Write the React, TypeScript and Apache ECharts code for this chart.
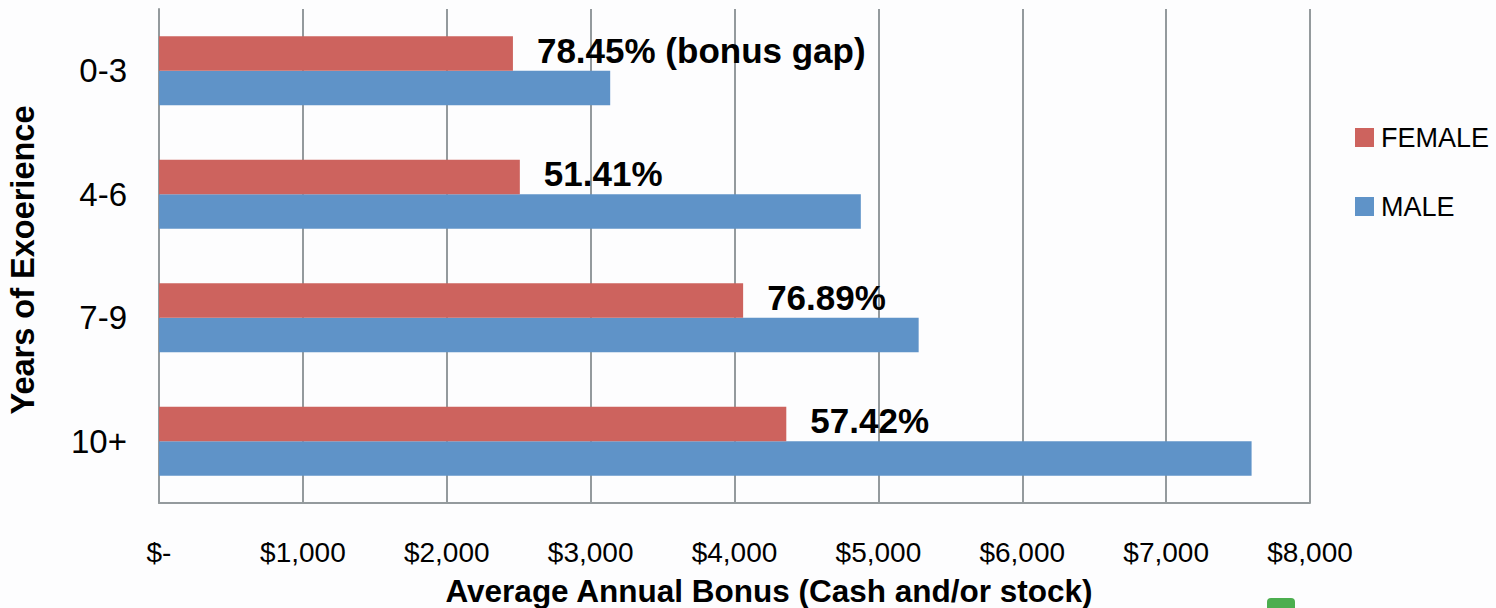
import React, { useEffect, useRef } from "react";
import * as echarts from "echarts";

const categories = ["0-3", "4-6", "7-9", "10+"];
const femaleValues = [2460, 2508, 4060, 4360];
const maleValues = [3136, 4878, 5280, 7594];
const gapLabels = ["78.45% (bonus gap)", "51.41%", "76.89%", "57.42%"];
const xTicks = [0, 1000, 2000, 3000, 4000, 5000, 6000, 7000, 8000];
const seriesNames = ["FEMALE", "MALE"];

const FONT = '"Liberation Sans", Arial, Helvetica, sans-serif';

function fmtMoney(v: number) {
  if (v === 0) return "$-";
  return "$" + v.toLocaleString("en-US");
}

export default function App() {
  const ref = useRef<HTMLDivElement>(null);
  useEffect(() => {
    document.body.style.margin = "0";
    if (!ref.current) return;
    const chart = echarts.init(ref.current, null, { renderer: "svg" });
    chart.setOption({
      animation: false,
      backgroundColor: "#fdfdfe",
      textStyle: { fontFamily: FONT },
      grid: { left: 159, right: 186, top: 9, bottom: 105, containLabel: false },
      legend: {
        orient: "vertical",
        left: 1350,
        top: 119,
        itemWidth: 19,
        itemHeight: 19,
        itemGap: 42,
        icon: "rect",
        data: seriesNames,
        textStyle: { fontSize: 27, color: "#000", fontFamily: FONT, padding: [0, 0, 0, 2] },
      },
      xAxis: {
        type: "value",
        min: xTicks[0],
        max: xTicks[xTicks.length - 1],
        interval: 1000,
        axisLine: { show: true, lineStyle: { color: "#949a9d", width: 2 } },
        axisTick: { show: false },
        splitLine: { show: true, lineStyle: { color: "#949a9d", width: 2 } },
        axisLabel: {
          formatter: (v: number) => fmtMoney(v),
          fontSize: 28,
          color: "#000",
          margin: 35,
          fontFamily: FONT,
        },
      },
      yAxis: {
        type: "category",
        data: categories,
        inverse: true,
        axisLine: { show: true, lineStyle: { color: "#949a9d", width: 2 } },
        axisTick: { show: false },
        axisLabel: { fontSize: 33, color: "#000", margin: 32, fontFamily: FONT },
      },
      series: [
        {
          name: seriesNames[0],
          type: "bar",
          data: femaleValues,
          barGap: "0%",
          barCategoryGap: "44%",
          itemStyle: { color: "#cd635e" },
          label: {
            show: true,
            position: "right",
            distance: 24,
            offset: [0, -3],
            formatter: (p: any) => gapLabels[p.dataIndex],
            fontSize: 35,
            fontWeight: "bold",
            color: "#000",
            fontFamily: FONT,
          },
          z: 3,
        },
        {
          name: seriesNames[1],
          type: "bar",
          data: maleValues,
          barGap: "0%",
          barCategoryGap: "44%",
          itemStyle: { color: "#5f93c8" },
          z: 2,
        },
      ],
      graphic: [
        {
          type: "text",
          x: 23,
          y: 260,
          rotation: Math.PI / 2,
          style: {
            text: "Years of Exoerience",
            fontSize: 32.5,
            fontWeight: "bold",
            fontFamily: FONT,
            fill: "#000",
            textAlign: "center",
            textVerticalAlign: "middle",
          },
        },
        {
          type: "text",
          x: 769,
          y: 607,
          style: {
            text: "Average Annual Bonus (Cash and/or stock)",
            fontSize: 31.5,
            fontWeight: "bold",
            fontFamily: FONT,
            fill: "#000",
            textAlign: "center",
            textVerticalAlign: "bottom",
          },
        },
        {
          type: "rect",
          shape: { x: 1267, y: 598, width: 28, height: 14, r: 4 },
          style: { fill: "#4cae4f" },
        },
      ],
    });
    return () => chart.dispose();
  }, []);
  return <div ref={ref} style={{ width: 1496, height: 608 }} />;
}
